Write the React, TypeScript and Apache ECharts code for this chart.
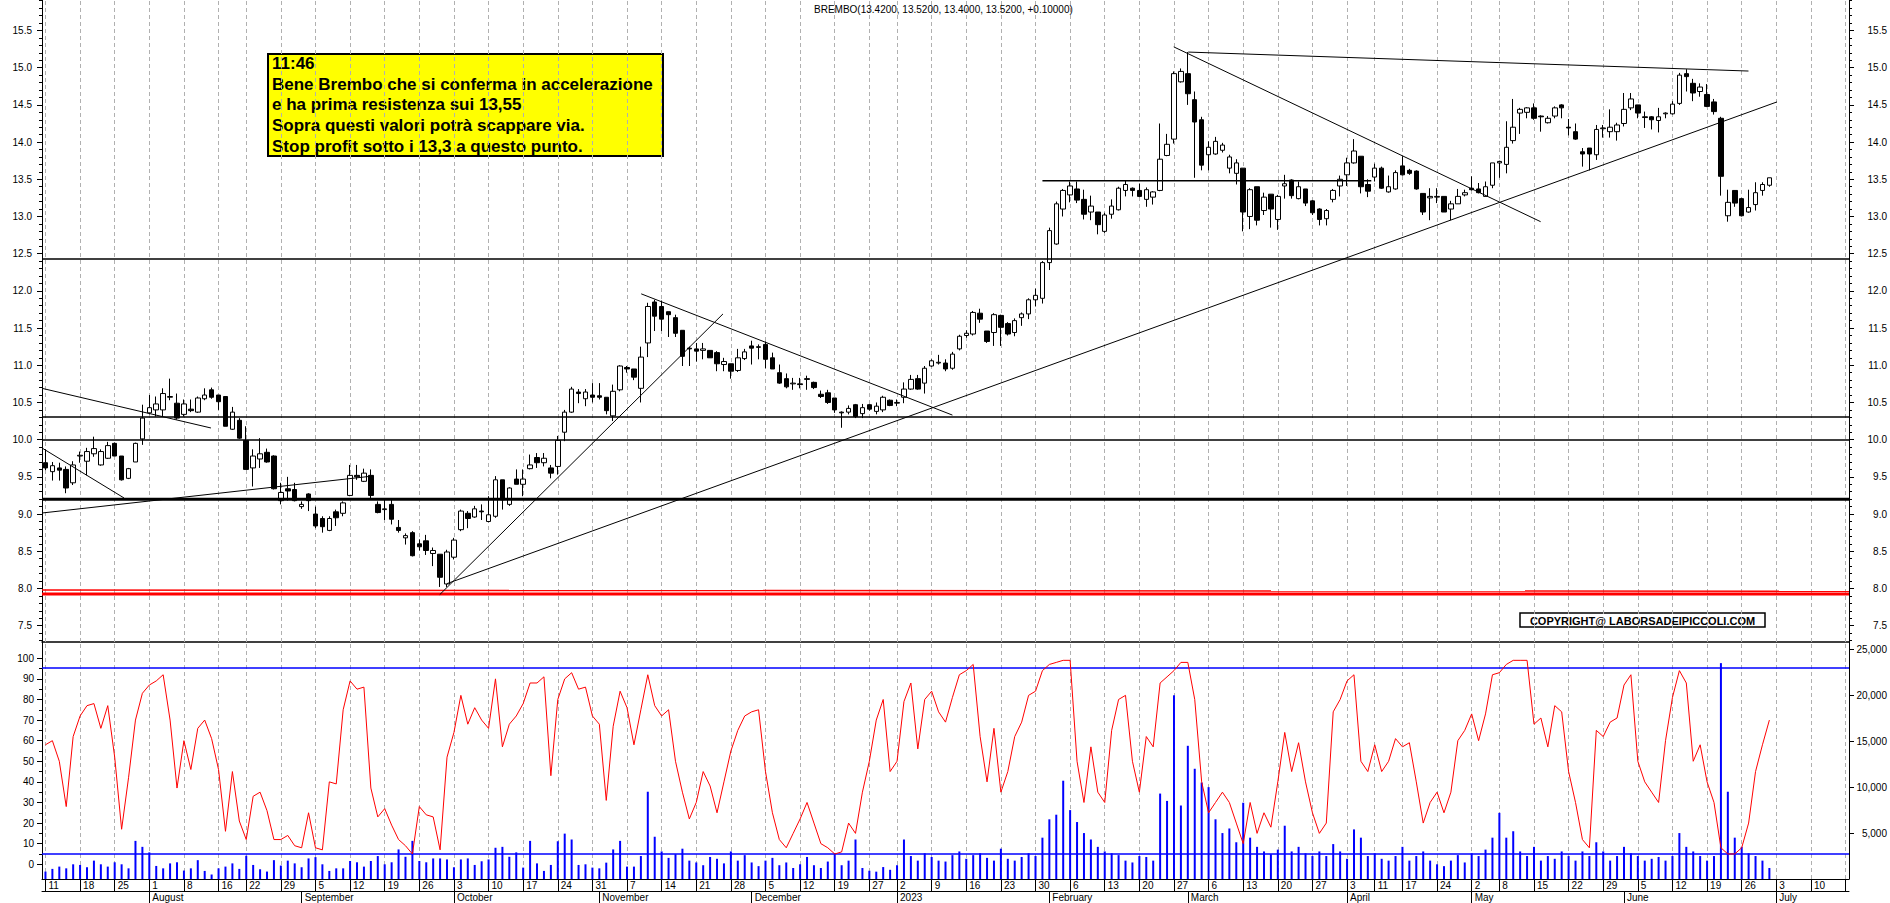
import React, { useEffect, useRef } from 'react';
import * as echarts from 'echarts';

const FONT = '"Liberation Sans", Arial, sans-serif';

// ---- calendar ----
const FIRST_DAY = '2022-07-11';
const LAST_AXIS_DAY = '2023-07-17';
const CLOSED_DAYS = ['2022-08-15', '2022-12-26', '2023-04-07', '2023-04-10', '2023-05-01'];
const MONTH_NAMES = ['2023', 'February', 'March', 'April', 'May', 'June', 'July', 'August', 'September', 'October', 'November', 'December'];

// ---- price data (one value per trading day, 11 Jul 2022 .. 30 Jun 2023) ----
const OPEN = [
  9.69, 9.57, 9.62, 9.60, 9.42, 9.78, 9.71, 9.81, 9.66, 9.75,
  9.95, 9.78, 9.48, 9.70, 10.01, 10.36, 10.40, 10.40, 10.57, 10.49,
  10.34, 10.41, 10.37, 10.55, 10.67, 10.60, 10.58, 10.14, 10.26, 9.99,
  9.62, 9.74, 9.83, 9.78, 9.18, 9.34, 9.33, 9.10, 9.27, 9.00,
  8.94, 8.78, 9.03, 9.01, 9.25, 9.52, 9.44, 9.52, 9.13, 9.06,
  9.13, 8.82, 8.68, 8.75, 8.60, 8.64, 8.47, 8.46, 8.06, 8.42,
  8.79, 9.01, 8.96, 9.04, 8.90, 8.97, 9.46, 9.13, 9.47, 9.40,
  9.61, 9.76, 9.69, 9.62, 9.64, 10.10, 10.37, 10.64, 10.55, 10.60,
  10.59, 10.57, 10.32, 10.67, 10.97, 10.95, 10.69, 11.30, 11.85, 11.79,
  11.72, 11.64, 11.47, 11.23, 11.22, 11.20, 11.20, 11.17, 11.01, 11.02,
  10.93, 11.09, 11.26, 11.24, 11.28, 11.10, 10.90, 10.82, 10.75, 10.75,
  10.82, 10.77, 10.61, 10.63, 10.56, 10.37, 10.37, 10.47, 10.35, 10.47,
  10.38, 10.40, 10.53, 10.49, 10.57, 10.68, 10.82, 10.76, 10.99, 11.03,
  11.03, 10.96, 11.22, 11.40, 11.42, 11.70, 11.46, 11.44, 11.67, 11.56,
  11.44, 11.64, 11.69, 11.88, 11.90, 12.38, 12.63, 13.10, 13.29, 13.37,
  13.23, 13.06, 13.06, 12.80, 13.03, 13.09, 13.35, 13.38, 13.35, 13.23,
  13.26, 13.35, 13.82, 14.04, 14.81, 14.92, 14.57, 14.30, 13.83, 13.84,
  13.89, 13.65, 13.58, 13.65, 13.00, 13.40, 13.08, 13.30, 12.96, 13.41,
  13.49, 13.24, 13.37, 13.21, 13.10, 12.97, 13.23, 13.41, 13.56, 13.72,
  13.81, 13.43, 13.53, 13.65, 13.33, 13.37, 13.68, 13.62, 13.61, 13.31,
  13.25, 13.26, 13.27, 13.10, 13.17, 13.29, 13.38, 13.37, 13.27, 13.42,
  13.72, 13.70, 14.02, 14.39, 14.40, 14.46, 14.35, 14.26, 14.35, 14.50,
  14.20, 14.14, 13.87, 13.92, 13.83, 14.18, 14.14, 14.14, 14.25, 14.46,
  14.50, 14.34, 14.34, 14.29, 14.38, 14.38, 14.52, 14.92, 14.79, 14.68,
  14.64, 14.54, 14.32, 13.01, 13.35, 13.24, 13.06, 13.16, 13.35, 13.42,
];
const HIGH = [
  9.87, 9.70, 9.69, 9.64, 9.71, 9.84, 9.89, 10.04, 9.87, 9.97,
  9.96, 9.78, 9.62, 9.96, 10.47, 10.60, 10.58, 10.69, 10.82, 10.62,
  10.54, 10.54, 10.58, 10.69, 10.70, 10.60, 10.58, 10.44, 10.29, 10.18,
  9.87, 10.02, 9.88, 9.79, 9.42, 9.50, 9.42, 9.17, 9.28, 9.10,
  8.97, 8.97, 9.06, 9.17, 9.66, 9.66, 9.61, 9.60, 9.17, 9.19,
  9.19, 8.92, 8.74, 8.77, 8.66, 8.72, 8.55, 8.46, 8.52, 8.68,
  9.06, 9.04, 9.11, 9.13, 9.24, 9.51, 9.46, 9.36, 9.60, 9.60,
  9.80, 9.82, 9.82, 9.66, 10.05, 10.40, 10.71, 10.68, 10.68, 10.76,
  10.76, 10.57, 10.74, 11.00, 10.99, 10.95, 11.25, 11.84, 11.88, 11.87,
  11.72, 11.68, 11.47, 11.25, 11.30, 11.30, 11.20, 11.19, 11.10, 11.02,
  11.22, 11.22, 11.33, 11.28, 11.32, 11.17, 11.01, 10.89, 10.83, 10.83,
  10.86, 10.78, 10.66, 10.67, 10.56, 10.38, 10.46, 10.48, 10.48, 10.48,
  10.50, 10.59, 10.54, 10.54, 10.77, 10.87, 10.87, 10.99, 11.08, 11.14,
  11.08, 11.18, 11.41, 11.47, 11.73, 11.76, 11.46, 11.70, 11.68, 11.58,
  11.63, 11.71, 11.90, 12.03, 12.40, 12.85, 13.20, 13.37, 13.47, 13.47,
  13.36, 13.28, 13.06, 13.05, 13.23, 13.40, 13.49, 13.39, 13.44, 13.39,
  13.34, 14.25, 14.11, 14.95, 14.99, 15.21, 14.68, 14.34, 14.01, 14.07,
  13.99, 13.83, 13.77, 13.65, 13.38, 13.40, 13.32, 13.30, 13.29, 13.56,
  13.50, 13.47, 13.37, 13.22, 13.11, 13.10, 13.37, 13.55, 13.79, 14.04,
  13.81, 13.50, 13.71, 13.67, 13.55, 13.62, 13.81, 13.64, 13.62, 13.31,
  13.38, 13.38, 13.27, 13.21, 13.37, 13.36, 13.54, 13.45, 13.47, 13.72,
  13.75, 14.28, 14.58, 14.46, 14.47, 14.52, 14.36, 14.35, 14.48, 14.51,
  14.31, 14.25, 13.92, 13.92, 14.23, 14.23, 14.44, 14.26, 14.66, 14.66,
  14.50, 14.41, 14.35, 14.46, 14.40, 14.55, 14.93, 14.98, 14.85, 14.79,
  14.78, 14.58, 14.34, 13.36, 13.35, 13.25, 13.36, 13.46, 13.46, 13.52,
];
const LOW = [
  9.59, 9.45, 9.45, 9.28, 9.39, 9.69, 9.52, 9.77, 9.65, 9.74,
  9.78, 9.45, 9.47, 9.70, 9.93, 10.34, 10.31, 10.31, 10.53, 10.27,
  10.31, 10.37, 10.36, 10.53, 10.55, 10.40, 10.18, 10.13, 10.01, 9.60,
  9.37, 9.62, 9.69, 9.33, 9.13, 9.18, 9.17, 9.07, 9.04, 8.81,
  8.75, 8.77, 8.84, 8.97, 9.24, 9.46, 9.43, 9.20, 9.01, 8.92,
  8.86, 8.75, 8.59, 8.43, 8.51, 8.45, 8.30, 8.02, 8.02, 8.39,
  8.77, 8.81, 8.95, 8.92, 8.89, 8.95, 9.06, 9.11, 9.40, 9.24,
  9.60, 9.62, 9.64, 9.48, 9.53, 9.98, 10.36, 10.49, 10.45, 10.50,
  10.54, 10.34, 10.25, 10.65, 10.90, 10.80, 10.50, 11.11, 11.46, 11.46,
  11.38, 11.38, 10.99, 10.99, 11.05, 11.08, 11.10, 10.92, 10.92, 10.82,
  10.91, 11.07, 11.01, 11.08, 10.96, 10.95, 10.75, 10.69, 10.67, 10.69,
  10.67, 10.68, 10.56, 10.48, 10.36, 10.16, 10.34, 10.29, 10.29, 10.39,
  10.34, 10.37, 10.45, 10.45, 10.49, 10.67, 10.67, 10.62, 10.98, 11.01,
  10.92, 10.94, 11.20, 11.37, 11.40, 11.57, 11.30, 11.26, 11.26, 11.40,
  11.39, 11.53, 11.62, 11.79, 11.83, 12.28, 12.62, 13.00, 13.19, 13.18,
  12.96, 12.95, 12.76, 12.78, 12.97, 13.08, 13.27, 13.27, 13.26, 13.13,
  13.16, 13.34, 13.81, 13.98, 14.80, 14.50, 13.52, 13.62, 13.62, 13.83,
  13.86, 13.58, 13.43, 12.80, 12.83, 12.88, 13.02, 12.85, 12.82, 13.24,
  13.24, 13.23, 13.14, 13.02, 12.88, 12.88, 13.19, 13.27, 13.41, 13.71,
  13.31, 13.26, 13.47, 13.37, 13.32, 13.36, 13.55, 13.56, 13.36, 13.02,
  12.95, 13.18, 13.06, 12.95, 13.17, 13.27, 13.35, 13.31, 13.27, 13.38,
  13.52, 13.58, 13.98, 14.11, 14.32, 14.30, 14.14, 14.25, 14.32, 14.32,
  14.09, 14.03, 13.67, 13.62, 13.76, 14.06, 14.06, 14.02, 14.21, 14.43,
  14.32, 14.19, 14.17, 14.13, 14.32, 14.37, 14.50, 14.68, 14.55, 14.61,
  14.47, 14.37, 13.28, 12.93, 13.13, 13.00, 13.05, 13.08, 13.28, 13.40,
];
const CLOSE = [
  9.62, 9.65, 9.59, 9.35, 9.66, 9.79, 9.84, 9.88, 9.84, 9.92,
  9.78, 9.46, 9.61, 9.95, 10.29, 10.43, 10.48, 10.62, 10.58, 10.29,
  10.48, 10.39, 10.56, 10.60, 10.57, 10.51, 10.18, 10.37, 10.02, 9.60,
  9.78, 9.81, 9.70, 9.34, 9.29, 9.31, 9.18, 9.13, 9.18, 8.84,
  8.83, 8.94, 8.95, 9.15, 9.52, 9.50, 9.55, 9.25, 9.02, 9.07,
  8.93, 8.78, 8.71, 8.44, 8.56, 8.51, 8.51, 8.15, 8.49, 8.65,
  9.04, 8.94, 9.07, 9.03, 8.99, 9.46, 9.19, 9.35, 9.40, 9.47,
  9.66, 9.69, 9.75, 9.55, 9.99, 10.37, 10.68, 10.62, 10.64, 10.57,
  10.57, 10.39, 10.65, 10.99, 10.95, 10.84, 11.11, 11.79, 11.66, 11.62,
  11.68, 11.43, 11.12, 11.22, 11.19, 11.22, 11.10, 11.02, 11.05, 10.92,
  11.10, 11.18, 11.23, 11.25, 11.08, 10.95, 10.76, 10.71, 10.76, 10.74,
  10.81, 10.70, 10.58, 10.50, 10.40, 10.36, 10.42, 10.31, 10.43, 10.41,
  10.45, 10.57, 10.46, 10.50, 10.68, 10.81, 10.68, 10.96, 11.06, 11.04,
  10.95, 11.15, 11.39, 11.43, 11.71, 11.62, 11.32, 11.68, 11.51, 11.42,
  11.60, 11.69, 11.88, 11.94, 12.38, 12.81, 13.17, 13.35, 13.41, 13.22,
  13.03, 13.14, 12.89, 13.02, 13.14, 13.38, 13.43, 13.35, 13.27, 13.36,
  13.33, 13.77, 13.97, 14.92, 14.95, 14.65, 14.27, 13.69, 13.93, 14.01,
  13.96, 13.80, 13.72, 13.06, 13.36, 12.95, 13.26, 13.10, 13.27, 13.44,
  13.28, 13.40, 13.18, 13.05, 12.96, 13.08, 13.35, 13.50, 13.72, 13.88,
  13.40, 13.34, 13.65, 13.38, 13.40, 13.59, 13.56, 13.58, 13.37, 13.06,
  13.27, 13.27, 13.06, 13.17, 13.27, 13.32, 13.36, 13.32, 13.40, 13.72,
  13.74, 13.93, 14.20, 14.44, 14.46, 14.32, 14.34, 14.32, 14.46, 14.46,
  14.19, 14.04, 13.84, 13.84, 14.17, 14.19, 14.20, 14.23, 14.44, 14.58,
  14.39, 14.33, 14.30, 14.34, 14.39, 14.51, 14.90, 14.88, 14.66, 14.74,
  14.48, 14.41, 13.54, 13.19, 13.18, 13.01, 13.12, 13.32, 13.43, 13.52,
];

// ---- oscillator (red line) ----
const OSCILLATOR = [
  58, 60, 50, 28, 62, 72, 77, 78, 66, 77,
  52, 17, 42, 70, 83, 87, 89, 92, 70, 37,
  60, 46, 66, 70, 61, 46, 16, 45, 21, 12,
  33, 35, 26, 12, 12, 14, 9, 8, 25, 8,
  7, 40, 39, 75, 89, 85, 86, 37, 23, 27,
  19, 12, 9, 5, 28, 24, 23, 7, 52, 64,
  82, 68, 76, 70, 66, 90, 57, 68, 72, 78,
  88, 88, 91, 43, 80, 90, 93, 85, 86, 72,
  68, 31, 67, 84, 76, 58, 75, 92, 77, 72,
  75, 50, 35, 22, 30, 45, 38, 25, 40, 55,
  65, 72, 74, 75, 45, 25, 12, 8, 15, 22,
  30, 20, 10, 8, 5, 6, 20, 15, 35, 50,
  70, 80, 45, 50, 79, 88, 56, 80, 84, 74,
  69, 81, 92, 94, 97, 62, 40, 66, 35, 45,
  62, 69, 82, 84, 94, 97, 98, 99, 99, 50,
  30, 57, 35, 30, 65, 80, 82, 50, 35, 62,
  57, 88, 91, 94, 98, 98, 80, 40, 25, 30,
  35, 30, 20, 10, 30, 15, 25, 18, 40, 64,
  45, 59, 40, 25, 15, 20, 74, 80, 89, 92,
  50, 45, 58, 45, 50, 61, 57, 59, 40, 20,
  30, 35, 25, 35, 60, 65, 73, 60, 73, 92,
  93, 97, 99, 99, 99, 68, 71, 57, 77, 74,
  45, 30, 12, 8, 65, 62, 69, 71, 87, 92,
  50, 40, 35, 30, 60, 81, 94, 88, 50, 58,
  40, 30, 8, 5, 5, 8, 20, 45, 58, 70,
];

// ---- volume (blue bars) ----
const VOLUME = [
  810, 1100, 1350, 1160, 1600, 1530, 1280, 2000, 1600, 1350,
  1820, 1600, 1160, 4150, 3500, 2900, 1420, 1160, 1700, 1820,
  920, 1160, 2050, 880, 490, 1160, 1350, 1700, 1100, 2530,
  1530, 1060, 810, 2050, 1460, 2000, 1700, 1280, 2240, 2380,
  1600, 880, 1160, 1160, 1960, 1820, 1350, 1960, 2500, 1600,
  1820, 3220, 2420, 4150, 1960, 1820, 2240, 2240, 2130, 1280,
  2130, 2240, 1530, 1930, 2130, 3400, 3500, 2420, 2900, 1240,
  4150, 1700, 880, 1530, 4110, 4940, 4300, 1530, 1600, 1240,
  1160, 1780, 3220, 4150, 1350, 1350, 2500, 9500, 4600, 3000,
  2300, 2700, 3300, 2000, 1800, 1500, 2400, 2200, 1700, 3000,
  2000, 2600, 1800, 1400, 2000, 2300, 1500, 1800, 1200, 1600,
  2400, 1500, 1200, 1900, 2800, 1500, 2000, 4300, 1200, 900,
  800, 1300, 1000, 1500, 4300, 2500, 2000, 2800, 2400, 2000,
  1900, 2600, 3000, 2200, 2600, 2800, 2300, 2000, 3300, 2200,
  2000, 2400, 2800, 2500, 4500, 6500, 7000, 10700, 7500, 6200,
  5000, 4300, 3500, 3000, 2800, 2600, 2000, 1800, 2500, 2400,
  2000, 9300, 8500, 20000, 8000, 14500, 12000, 10500, 10000, 6500,
  5000, 5500, 4000, 8300, 4500, 3500, 3000, 2700, 3200, 5800,
  3000, 3500, 2800, 2500, 3000, 2500, 3800, 3000, 2200, 5400,
  4500, 2500, 2800, 2200, 2000, 2500, 3500, 2000, 2500, 3000,
  2000, 1600, 1400, 2000, 2600, 1800, 2800, 2500, 3200, 4500,
  7200, 4500, 5200, 3000, 2500, 3500, 2000, 2500, 2200, 3000,
  2500, 2000, 3000, 2500, 4000, 3000, 2000, 2500, 3500, 2800,
  2500, 2000, 2200, 2400, 2000, 2500, 5000, 3500, 3000, 2500,
  2000, 2500, 23500, 9500, 4500, 3500, 2800, 2500, 2000, 1200,
];

// ---- axis tick labels ----
const PRICE_LABELS = [7.5, 8.0, 8.5, 9.0, 9.5, 10.0, 10.5, 11.0, 11.5, 12.0, 12.5, 13.0, 13.5, 14.0, 14.5, 15.0, 15.5];
const OSC_LABELS = [0, 10, 20, 30, 40, 50, 60, 70, 80, 90, 100];
const OSC_MINOR = [5, 15, 25, 35, 45, 55, 65, 75, 85, 95];
const VOLUME_LABELS = [5000, 10000, 15000, 20000, 25000];

// ---- drawn lines, in (day index, price) ----
const HORIZONTALS = [
  { price: 12.43, width: 1.5, color: '#000' },
  { price: 10.305, width: 1.5, color: '#000' },
  { price: 9.995, width: 1.5, color: '#000' },
  { price: 9.2, width: 3, color: '#000' },
  { price: 7.926, width: 3, color: '#ff0000' },
];
const SEGMENTS = [
  { from: [-0.5, 7.978], to: [260.5, 7.962], width: 1.5, color: '#ff0000' },
  { from: [144, 13.48], to: [191.5, 13.48], width: 1.5, color: '#000' },
  { from: [-0.5, 10.69], to: [23.9, 10.157], width: 1, color: '#000' },
  { from: [-0.5, 9.888], to: [11.35, 9.216], width: 1, color: '#000' },
  { from: [-0.5, 9.014], to: [46.9, 9.507], width: 1, color: '#000' },
  { from: [56.95, 7.917], to: [97.86, 11.69], width: 1, color: '#000' },
  { from: [58.0, 8.065], to: [250.1, 14.54], width: 1, color: '#000' },
  { from: [86.05, 11.96], to: [131.0, 10.33], width: 1, color: '#000' },
  { from: [162.97, 15.28], to: [215.96, 12.93], width: 1, color: '#000' },
  { from: [165.06, 15.21], to: [245.98, 14.955], width: 1, color: '#000' },
];

const TITLE = 'BREMBO(13.4200, 13.5200, 13.4000, 13.5200, +0.10000)';
const NOTE_LINES = [
  '11:46',
  'Bene Brembo che si conferma in accelerazione',
  'e ha prima resistenza sui 13,55',
  'Sopra questi valori potrà scappare via.',
  'Stop profit sotto i 13,3 a questo punto.',
];
const COPYRIGHT = 'COPYRIGHT@ LABORSADEIPICCOLI.COM';

function buildDates(): string[] {
  const out: string[] = [];
  const d = new Date(FIRST_DAY + 'T00:00:00Z');
  const end = new Date(LAST_AXIS_DAY + 'T00:00:00Z');
  while (d.getTime() <= end.getTime()) {
    const dow = d.getUTCDay();
    const s = d.toISOString().slice(0, 10);
    if (dow !== 0 && dow !== 6 && CLOSED_DAYS.indexOf(s) < 0) out.push(s);
    d.setUTCDate(d.getUTCDate() + 1);
  }
  return out;
}

function weekKey(s: string): number {
  const d = new Date(s + 'T00:00:00Z');
  const dow = (d.getUTCDay() + 6) % 7;
  return d.getTime() - dow * 86400000;
}

function buildOption() {
  const dates = buildDates();
  const N = dates.length;
  const weekStart = dates.map((s, i) => i === 0 || weekKey(s) !== weekKey(dates[i - 1]));
  const monthStart = dates.map((s, i) => i > 0 && s.slice(0, 7) !== dates[i - 1].slice(0, 7));
  const weekDates = dates.filter((_, i) => weekStart[i]);

  const candles = OPEN.map((o, i) => [o, CLOSE[i], LOW[i], HIGH[i]]);
  const priceMinor: number[] = [];
  for (let k = 73; k <= 159; k++) priceMinor.push(k / 10);

  const gridMark = {
    silent: true,
    symbol: ['none', 'none'],
    label: { show: false },
    lineStyle: { color: '#b0b0b0', width: 1, type: [4, 3] },
    emphasis: { disabled: true },
    z: 1,
    data: weekDates.map((d) => ({ xAxis: d })),
  };

  const lineSeries: any[] = [];
  HORIZONTALS.forEach((h) => {
    lineSeries.push({
      type: 'line', xAxisIndex: 1, yAxisIndex: 0, silent: true, symbol: 'none', z: 5,
      data: [[-0.5, h.price], [N - 0.5, h.price]],
      lineStyle: { color: h.color, width: h.width },
    });
  });
  SEGMENTS.forEach((s) => {
    lineSeries.push({
      type: 'line', xAxisIndex: 1, yAxisIndex: 0, silent: true, symbol: 'none', z: 5,
      data: [s.from, s.to],
      lineStyle: { color: s.color, width: s.width },
    });
  });

  const labelStyle = { color: '#000', fontFamily: FONT, fontSize: 10 };
  const black = { color: '#000', width: 1 };

  return {
    animation: false,
    backgroundColor: '#ffffff',
    textStyle: { fontFamily: FONT },
    grid: [
      { left: 42, right: 41, top: 0, height: 642 },
      { left: 42, right: 41, top: 642, height: 237 },
    ],
    xAxis: [
      {
        type: 'category', gridIndex: 0, data: dates, boundaryGap: true, position: 'bottom',
        axisLine: { show: true, onZero: false, lineStyle: { color: '#000', width: 1.5 } },
        axisTick: { show: false }, axisLabel: { show: false }, splitLine: { show: false },
      },
      { type: 'value', gridIndex: 0, min: -0.5, max: N - 0.5, show: false, splitLine: { show: false } },
      {
        type: 'category', gridIndex: 1, data: dates, boundaryGap: true, position: 'bottom',
        axisLine: { show: true, onZero: false, lineStyle: black },
        axisTick: { show: true, alignWithLabel: true, length: 12, interval: (i: number) => weekStart[i], lineStyle: black },
        axisLabel: {
          ...labelStyle,
          interval: (i: number) => weekStart[i] && i < N - 1,
          formatter: (v: string) => String(parseInt(v.slice(8), 10)),
          align: 'left', verticalAlign: 'top', margin: 1, padding: [0, 0, 0, 3],
        },
        splitLine: { show: false },
      },
      {
        type: 'category', gridIndex: 1, data: dates, boundaryGap: true, position: 'bottom', offset: 12,
        axisLine: { show: true, onZero: false, lineStyle: black },
        axisTick: { show: true, alignWithLabel: true, length: 14, interval: (i: number) => monthStart[i], lineStyle: black },
        axisLabel: {
          ...labelStyle,
          interval: (i: number) => monthStart[i],
          formatter: (v: string) => {
            const m = parseInt(v.slice(5, 7), 10);
            return MONTH_NAMES[m - 1];
          },
          align: 'left', verticalAlign: 'top', margin: 1, padding: [0, 0, 0, 3],
        },
        splitLine: { show: false },
      },
    ],
    yAxis: [
      {
        type: 'value', gridIndex: 0, position: 'left', min: 7.28, max: 15.91,
        axisLine: { show: true, onZero: false, lineStyle: black },
        axisTick: { show: true, length: 5, customValues: PRICE_LABELS, lineStyle: black },
        axisLabel: { ...labelStyle, customValues: PRICE_LABELS, formatter: (v: number) => v.toFixed(1), margin: 10 },
        splitLine: { show: false },
      },
      {
        type: 'value', gridIndex: 0, position: 'left', min: 7.28, max: 15.91,
        axisLine: { show: false, onZero: false },
        axisTick: { show: true, length: 3, customValues: priceMinor, lineStyle: black },
        axisLabel: { show: false }, splitLine: { show: false },
      },
      {
        type: 'value', gridIndex: 0, position: 'right', min: 7.28, max: 15.91,
        axisLine: { show: true, onZero: false, lineStyle: black },
        axisTick: { show: true, length: 5, customValues: PRICE_LABELS, lineStyle: black },
        axisLabel: { ...labelStyle, customValues: PRICE_LABELS, formatter: (v: number) => v.toFixed(1), margin: 38, align: 'right' },
        splitLine: { show: false },
      },
      {
        type: 'value', gridIndex: 0, position: 'right', min: 7.28, max: 15.91,
        axisLine: { show: false, onZero: false },
        axisTick: { show: true, length: 3, customValues: priceMinor, lineStyle: black },
        axisLabel: { show: false }, splitLine: { show: false },
      },
      {
        type: 'value', gridIndex: 1, position: 'left', min: -7.15, max: 107.9,
        axisLine: { show: true, onZero: false, lineStyle: black },
        axisTick: { show: true, length: 5, customValues: OSC_LABELS, lineStyle: black },
        axisLabel: { ...labelStyle, customValues: OSC_LABELS, margin: 8 },
        splitLine: { show: false },
      },
      {
        type: 'value', gridIndex: 1, position: 'left', min: -7.15, max: 107.9,
        axisLine: { show: false, onZero: false },
        axisTick: { show: true, length: 3, customValues: OSC_MINOR, lineStyle: black },
        axisLabel: { show: false }, splitLine: { show: false },
      },
      {
        type: 'value', gridIndex: 1, position: 'right', min: 0, max: 25800,
        axisLine: { show: true, onZero: false, lineStyle: black },
        axisTick: { show: true, length: 5, customValues: VOLUME_LABELS, lineStyle: black },
        axisLabel: { ...labelStyle, customValues: VOLUME_LABELS, margin: 38, align: 'right' },
        splitLine: { show: false },
      },
    ],
    series: [
      { type: 'line', xAxisIndex: 0, yAxisIndex: 0, data: [], silent: true, z: 1, markLine: gridMark },
      { type: 'line', xAxisIndex: 2, yAxisIndex: 4, data: [], silent: true, z: 1, markLine: gridMark },
      {
        type: 'candlestick', xAxisIndex: 0, yAxisIndex: 0, data: candles, barWidth: 5, z: 3, silent: true,
        itemStyle: { color: '#ffffff', color0: '#000000', borderColor: '#000000', borderColor0: '#000000', borderWidth: 1 },
      },
      ...lineSeries,
      {
        type: 'bar', xAxisIndex: 2, yAxisIndex: 6, data: VOLUME, barWidth: 2, z: 3, silent: true,
        itemStyle: { color: '#0000ff' },
      },
      {
        type: 'line', xAxisIndex: 2, yAxisIndex: 4, data: OSCILLATOR, symbol: 'none', z: 4, silent: true,
        lineStyle: { color: '#ff0000', width: 1 },
        markLine: {
          silent: true, symbol: ['none', 'none'], label: { show: false }, z: 4,
          lineStyle: { color: '#0000ff', width: 1.5, type: 'solid' },
          data: [{ yAxis: 95.3 }, { yAxis: 5 }],
        },
      },
    ],
    graphic: [
      {
        type: 'text', x: 814, y: 9, z: 20,
        style: { text: TITLE, fill: '#000', fontSize: 10, fontFamily: FONT, verticalAlign: 'middle', textVerticalAlign: 'middle' },
      },
      {
        type: 'group', x: 268, y: 54, z: 20,
        children: [
          { type: 'rect', shape: { x: 0, y: 0, width: 395, height: 102 }, style: { fill: '#ffff00', stroke: '#000', lineWidth: 2 } },
          ...NOTE_LINES.map((t, k) => ({
            type: 'text', x: 4, y: 9.5 + k * 20.7,
            style: { text: t, fill: '#000', fontSize: 17, fontWeight: 'bold', fontFamily: FONT, verticalAlign: 'middle', textVerticalAlign: 'middle' },
          })),
        ],
      },
      {
        type: 'group', x: 1520, y: 613, z: 20,
        children: [
          { type: 'rect', shape: { x: 0, y: 0, width: 245, height: 14 }, style: { fill: '#ffffff', stroke: '#000', lineWidth: 1.5 } },
          {
            type: 'text', x: 122.5, y: 7.5,
            style: { text: COPYRIGHT, fill: '#000', fontSize: 11, fontWeight: 'bold', fontFamily: FONT, align: 'center', textAlign: 'center', verticalAlign: 'middle', textVerticalAlign: 'middle' },
          },
        ],
      },
    ],
  };
}

export default function App() {
  const ref = useRef<HTMLDivElement>(null);
  useEffect(() => {
    if (!ref.current) return;
    const chart = echarts.init(ref.current, undefined, { renderer: 'svg' });
    chart.setOption(buildOption() as any);
    return () => chart.dispose();
  }, []);
  return (
    <div
      ref={ref}
      style={{ position: 'fixed', left: 0, top: 0, width: 1890, height: 903, background: '#ffffff' }}
    />
  );
}
